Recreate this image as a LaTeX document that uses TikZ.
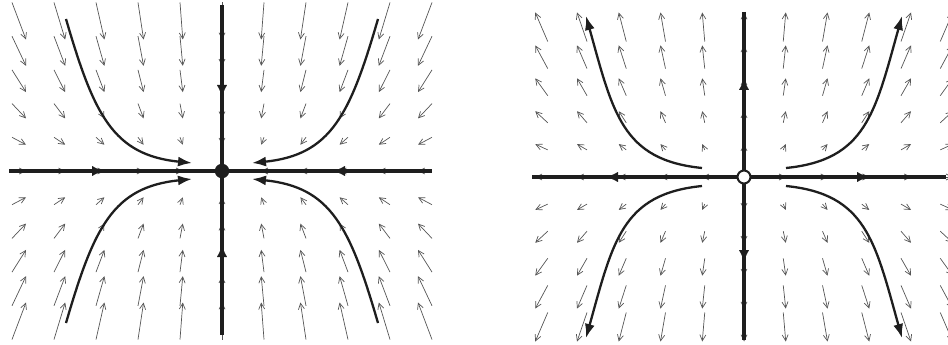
\documentclass[tikz,border=0pt]{standalone}
\usetikzlibrary{arrows.meta}
\definecolor{fieldgray}{HTML}{555555}
\definecolor{ink}{HTML}{1e1e1e}
\tikzset{
  fld/.style={draw=fieldgray, line width=0.7pt, -{Straight Barb[length=6pt,width=6pt]}},
  axisline/.style={draw=ink, line width=3.6pt},
  axhead/.style={draw=ink, fill=ink, line width=0.1pt, -{Latex[length=11pt,width=10pt]}},
  traj/.style={draw=ink, line width=2.3pt, -{Latex[length=14pt,width=10pt]}},
  sink/.style={circle, fill=ink, draw=ink, minimum size=14pt, inner sep=0pt},
  source/.style={circle, fill=white, draw=ink, line width=2pt, minimum size=13pt, inner sep=0pt}
}
\begin{document}
\begin{tikzpicture}[x=1pt, y=-1pt]
\useasboundingbox (0,0) rectangle (948,345);
% ---------- left panel: direction field ----------
\foreach \i in {-5,...,5}{
  \foreach \j in {-5,...,5}{
    \pgfmathsetmacro\r{abs(\i)+abs(\j)}
    \ifdim\r pt>0pt
      \draw[fld] ({222+40.6*\i+1.4*\i},{171-30*\j-3.7*\j}) -- ({222+40.6*\i-1.4*\i},{171-30*\j+3.7*\j});
    \fi
  }
}
% ---------- right panel: direction field ----------
\foreach \i in {-5,...,5}{
  \foreach \j in {-5,...,5}{
    \pgfmathsetmacro\r{abs(\i)+abs(\j)}
    \ifdim\r pt>0pt
      \draw[fld] ({744+40.5*\i-1.25*\i},{177-30*\j+2.9*\j}) -- ({744+40.5*\i+1.25*\i},{177-30*\j-2.9*\j});
    \fi
  }
}
% ---------- left panel ----------
\coordinate (LW) at (9,171);   \coordinate (LE) at (432,171);
\coordinate (LN) at (222,5);   \coordinate (LS) at (222,335);
\coordinate (l1a) at (66,19);   \coordinate (l1b) at (192,163);
\coordinate (l2a) at (378,19);  \coordinate (l2b) at (252,163);
\coordinate (l3a) at (66,323);  \coordinate (l3b) at (192,179);
\coordinate (l4a) at (378,323); \coordinate (l4b) at (252,179);
\draw[traj] (l1a) .. controls (94,115) and (113,155) .. (l1b);
\draw[traj] (l2a) .. controls (350,115) and (331,155) .. (l2b);
\draw[traj] (l3a) .. controls (94,227) and (113,187) .. (l3b);
\draw[traj] (l4a) .. controls (350,227) and (331,187) .. (l4b);
\draw[axisline] (LW) -- (LE);
\draw[axisline] (LN) -- (LS);
\coordinate (lh1s) at (92,171);  \coordinate (lh1) at (103,171);
\coordinate (lh2s) at (345,171); \coordinate (lh2) at (334,171);
\coordinate (lh3s) at (222,85);  \coordinate (lh3) at (222,96);
\coordinate (lh4s) at (222,257); \coordinate (lh4) at (222,246);
\draw[axhead] (lh1s) -- (lh1);
\draw[axhead] (lh2s) -- (lh2);
\draw[axhead] (lh3s) -- (lh3);
\draw[axhead] (lh4s) -- (lh4);
\node[sink] (O1) at (222,171) {};
% ---------- right panel ----------
\coordinate (RW) at (532,177);  \coordinate (RE) at (946,177);
\coordinate (RN) at (744,12);   \coordinate (RS) at (744,340);
\coordinate (r1a) at (702,168); \coordinate (r1b) at (586,16);
\coordinate (r2a) at (786,168); \coordinate (r2b) at (902,16);
\coordinate (r3a) at (702,186); \coordinate (r3b) at (586,338);
\coordinate (r4a) at (786,186); \coordinate (r4b) at (902,338);
\draw[traj] (r1a) .. controls (622,160) and (613,113) .. (r1b);
\draw[traj] (r2a) .. controls (866,160) and (875,113) .. (r2b);
\draw[traj] (r3a) .. controls (622,194) and (613,241) .. (r3b);
\draw[traj] (r4a) .. controls (866,194) and (875,241) .. (r4b);
\draw[axisline] (RW) -- (RE);
\draw[axisline] (RN) -- (RS);
\coordinate (rh1s) at (618,177); \coordinate (rh1) at (607,177);
\coordinate (rh2s) at (857,177); \coordinate (rh2) at (868,177);
\coordinate (rh3s) at (744,90);  \coordinate (rh3) at (744,79);
\coordinate (rh4s) at (744,250); \coordinate (rh4) at (744,261);
\draw[axhead] (rh1s) -- (rh1);
\draw[axhead] (rh2s) -- (rh2);
\draw[axhead] (rh3s) -- (rh3);
\draw[axhead] (rh4s) -- (rh4);
\node[source] (O2) at (744,177) {};
\end{tikzpicture}
\end{document}
